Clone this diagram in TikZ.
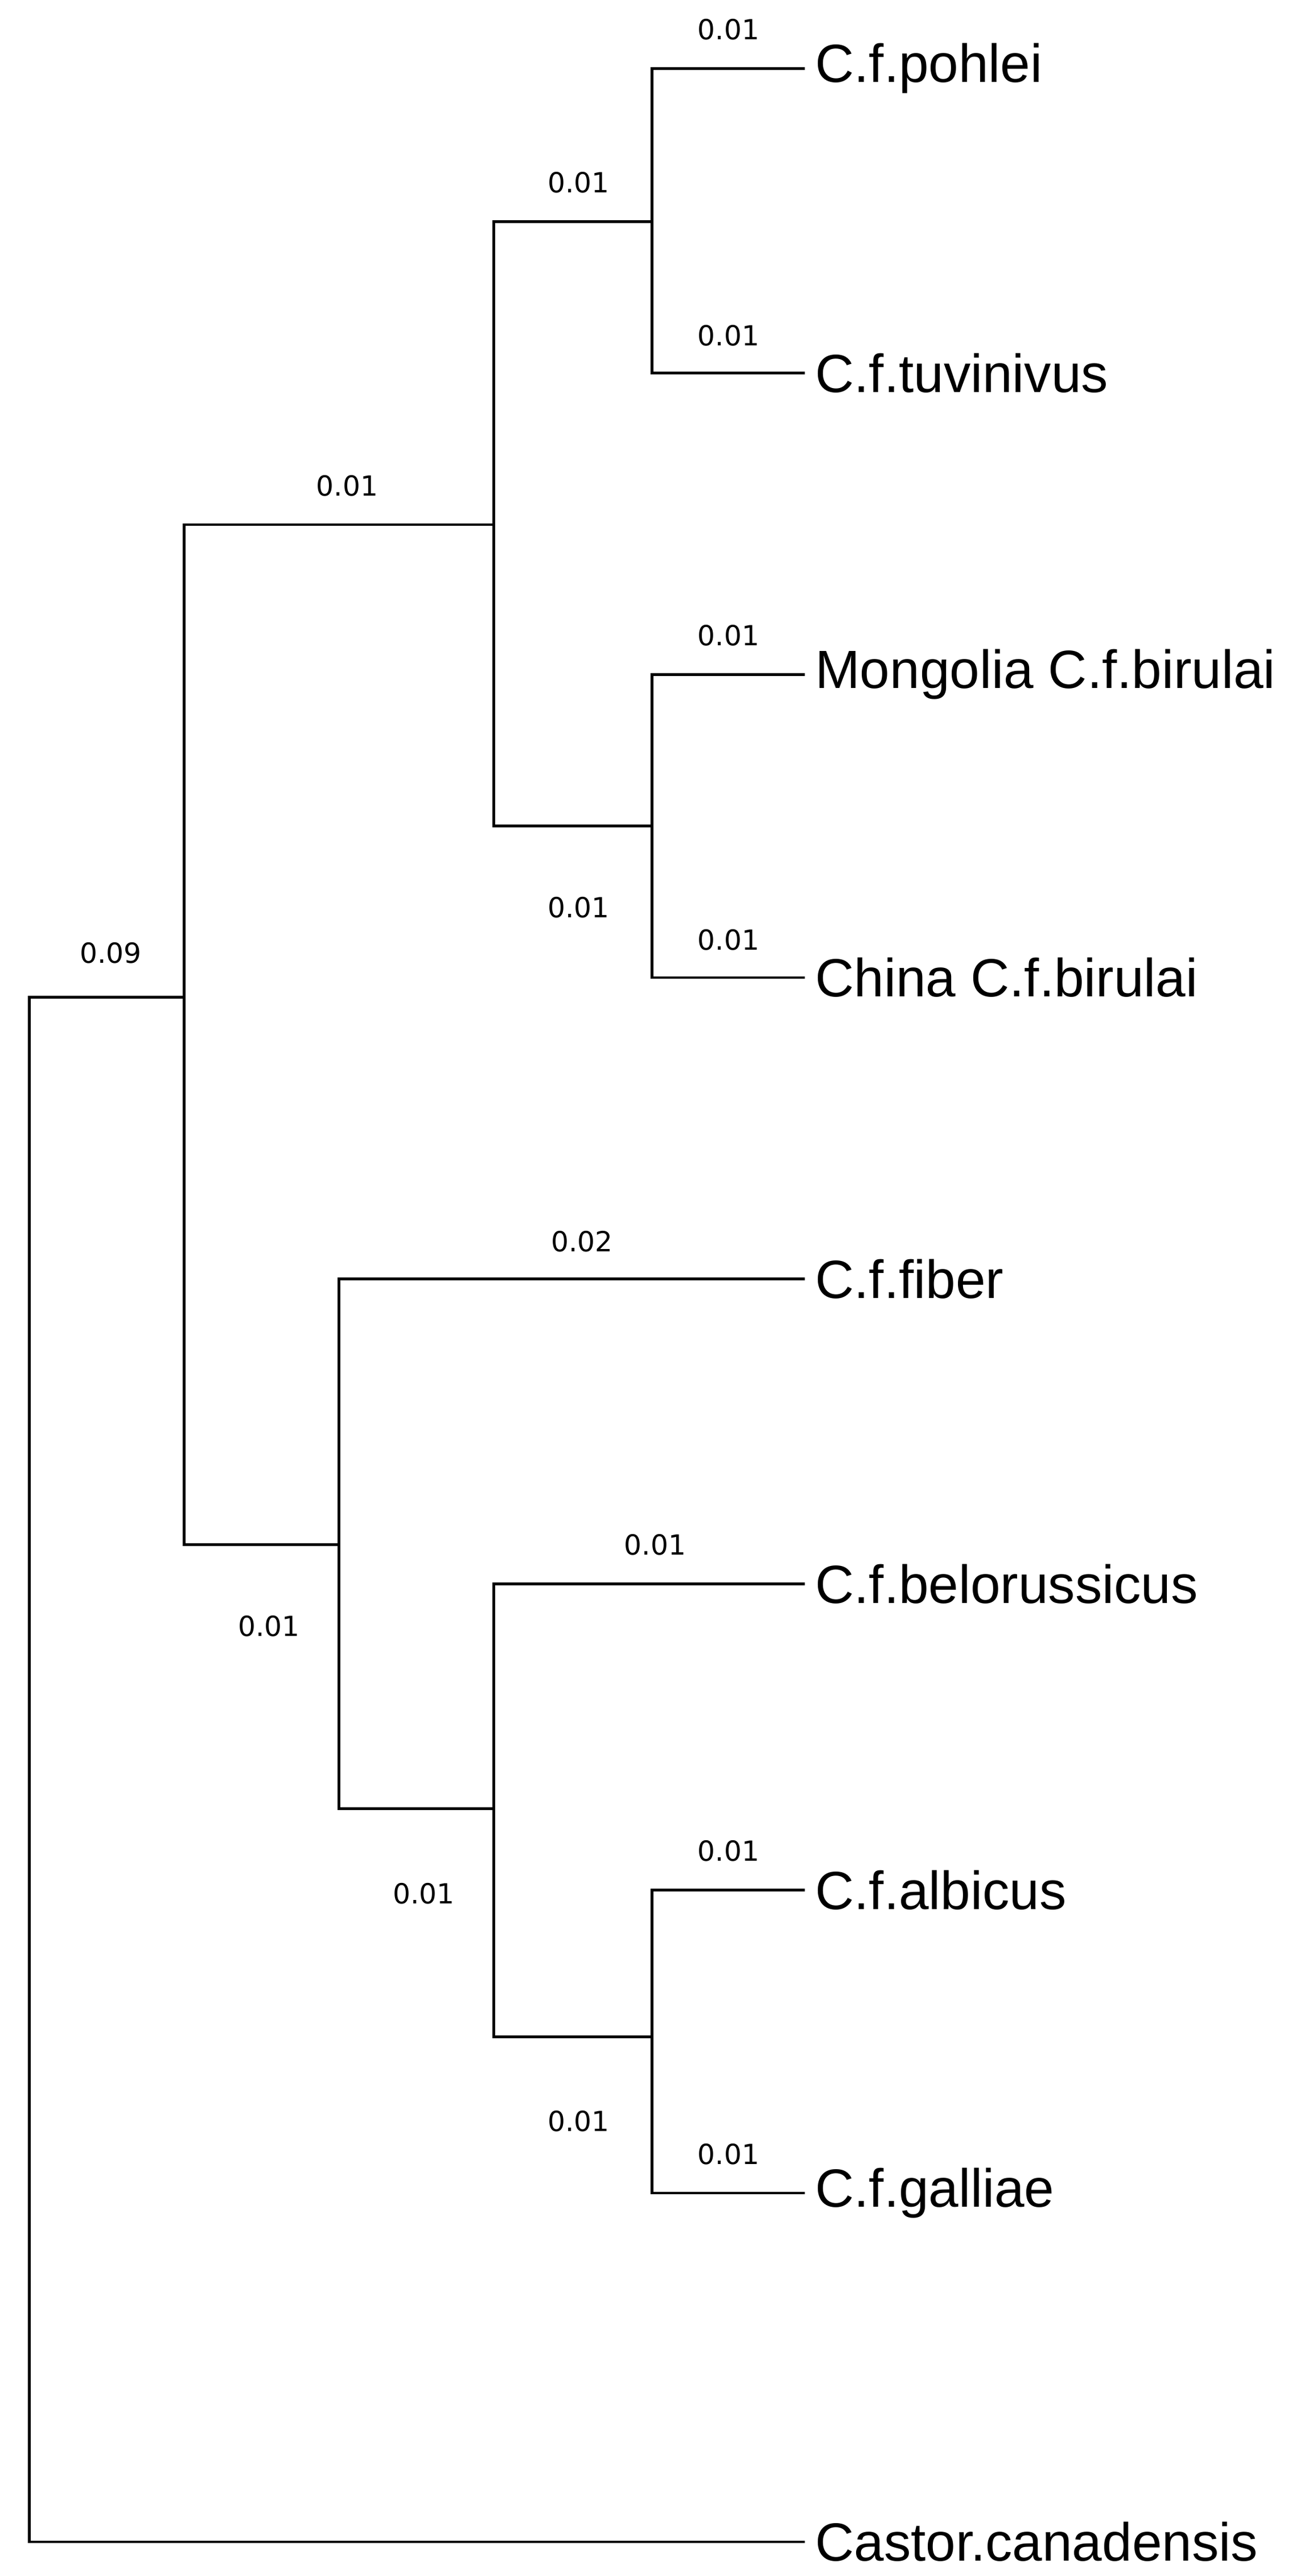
\documentclass[tikz,border=0pt]{standalone}
\usepackage{fontspec}
\setmainfont{Liberation Sans}
\newfontfamily\numfont{DejaVu Sans}
\begin{document}
\begin{tikzpicture}[x=1pt,y=-1pt,
  br/.style={line width=1.6pt,line cap=rect},
  leaf/.style={anchor=west,font=\fontsize{33}{36}\selectfont,inner sep=0pt},
  bl/.style={font=\numfont\fontsize{17}{20}\selectfont,inner sep=0pt}]
\useasboundingbox (0,0) rectangle (800,1581);
% internal nodes
\coordinate (R) at (18,612);
\coordinate (A) at (113,612);
\coordinate (B) at (303,322);
\coordinate (C) at (400,136);
\coordinate (D) at (400,507);
\coordinate (E) at (208,948);
\coordinate (F) at (303,1110);
\coordinate (G) at (400,1250);
% leaves
\node[leaf] (l1) at (500,42) {C.f.pohlei};
\node[leaf] (l2) at (500,229) {C.f.tuvinivus};
\node[leaf] (l3) at (500,414) {Mongolia C.f.birulai};
\node[leaf] (l4) at (500,600) {China C.f.birulai};
\node[leaf] (l5) at (500,785) {C.f.fiber};
\node[leaf] (l6) at (500,972) {C.f.belorussicus};
\node[leaf] (l7) at (500,1160) {C.f.albicus};
\node[leaf] (l8) at (500,1346) {C.f.galliae};
\node[leaf] (l9) at (500,1560) {Castor.canadensis};
\coordinate (t1) at (493,42);
\coordinate (t2) at (493,229);
\coordinate (t3) at (493,414);
\coordinate (t4) at (493,600);
\coordinate (t5) at (493,785);
\coordinate (t6) at (493,972);
\coordinate (t7) at (493,1160);
\coordinate (t8) at (493,1346);
\coordinate (t9) at (493,1560);
% branches
\draw[br] (t9) -| (R) -- (A);
\draw[br] (B) -| (A) |- (E);
\draw[br] (C) -| (B) |- (D);
\draw[br] (t1) -| (C) |- (t2);
\draw[br] (t3) -| (D) |- (t4);
\draw[br] (t5) -| (E) |- (F);
\draw[br] (t6) -| (F) |- (G);
\draw[br] (t7) -| (G) |- (t8);
% labels
\node[bl] (n1) at (68,585) {0.09};
\node[bl] (n2) at (213,298) {0.01};
\node[bl] (n3) at (355,112) {0.01};
\node[bl] (n4) at (447,18) {0.01};
\node[bl] (n5) at (447,206) {0.01};
\node[bl] (n6) at (355,557) {0.01};
\node[bl] (n7) at (447,390) {0.01};
\node[bl] (n8) at (447,577) {0.01};
\node[bl] (n9) at (165,998) {0.01};
\node[bl] (n10) at (357,762) {0.02};
\node[bl] (n11) at (260,1162) {0.01};
\node[bl] (n12) at (402,948) {0.01};
\node[bl] (n13) at (355,1302) {0.01};
\node[bl] (n14) at (447,1136) {0.01};
\node[bl] (n15) at (447,1322) {0.01};
\end{tikzpicture}
\end{document}
